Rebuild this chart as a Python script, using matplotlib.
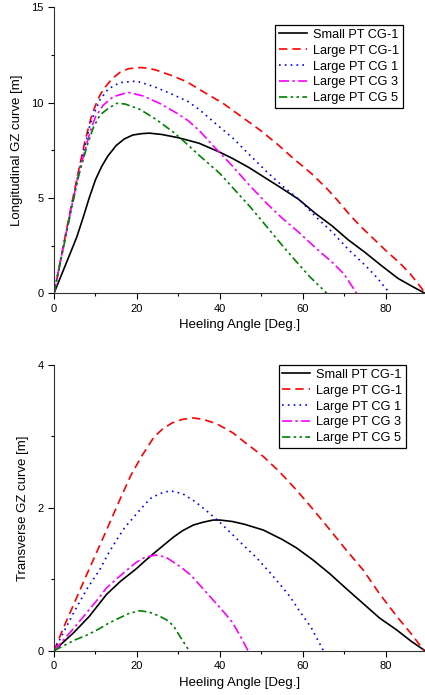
import matplotlib
matplotlib.use('Agg')
import matplotlib.pyplot as plt
from matplotlib.ticker import MultipleLocator

plt.rcParams['font.family'] = ['Liberation Sans', 'DejaVu Sans']

# ---- Longitudinal GZ (top) ----
lon_small_x = [0, 2, 4, 5.5, 7, 8.5, 10, 11.5, 13, 15, 17, 19, 21, 23, 26, 30, 35, 40, 43, 47, 51, 55, 59,
               63, 67, 71, 75, 79, 83, 86.5, 89.5]
lon_small_y = [0, 1.07, 2.14, 2.95, 3.95, 5.0, 5.95, 6.65, 7.2, 7.75, 8.1, 8.3, 8.37, 8.4, 8.33, 8.16, 7.87, 7.4,
               7.08, 6.6, 6.05, 5.5, 4.93, 4.2, 3.55, 2.8, 2.15, 1.45, 0.78, 0.35, 0]

lon_cgm1_x = [0, 2, 4, 6, 7.5, 9, 10, 11, 12, 14, 16, 18, 21, 23, 25, 28, 32, 35, 40.8, 45, 49.7, 54, 57.7,
              62, 65.8, 68.5, 71.4, 74, 77, 80, 83.5, 86, 88.7, 89.5]
lon_cgm1_y = [0, 2.2, 4.4, 6.5, 8.0, 9.25, 9.85, 10.35, 10.72, 11.25, 11.6, 11.78, 11.84, 11.8, 11.68, 11.45,
              11.1, 10.7, 9.96, 9.3, 8.56, 7.8, 7.08, 6.3, 5.5, 4.85, 4.1, 3.5, 2.88, 2.25, 1.57, 1.0, 0.26, 0]

lon_cg1_x = [0, 2, 4, 6, 8.7, 10, 11.1, 13.1, 15.9, 19.9, 24, 28, 32.4, 35.2, 39, 43.2, 47, 51.3, 55, 59.3,
             63, 67.4, 71, 75.4, 78, 81]
lon_cg1_y = [0, 2.2, 4.35, 6.4, 8.85, 9.6, 10.15, 10.72, 11.05, 11.13, 10.85, 10.49, 10.05, 9.61, 8.9, 8.13,
             7.3, 6.38, 5.65, 4.89, 4.05, 3.15, 2.3, 1.4, 0.8, 0]

lon_cg3_x = [0, 2, 4, 6, 8.7, 10, 11.9, 14.3, 17.9, 21.5, 25.6, 29.6, 32.4, 35.2, 39, 43.2, 47, 51.3, 55,
             59.3, 63, 67.4, 70, 73]
lon_cg3_y = [0, 2.15, 4.3, 6.3, 8.47, 9.25, 9.87, 10.31, 10.54, 10.35, 9.95, 9.45, 9.05, 8.5, 7.6, 6.64, 5.7,
             4.72, 3.95, 3.15, 2.4, 1.57, 1.0, 0]

lon_cg5_x = [0, 2, 4, 6, 8, 9.5, 11.1, 13.1, 15.1, 17.1, 20.7, 24.8, 28.8, 31.2, 35.2, 40, 43.5, 47.3, 51.3,
             55.3, 58.5, 61.7, 65.8]
lon_cg5_y = [0, 2.1, 4.2, 6.2, 7.75, 8.7, 9.35, 9.7, 9.96, 9.93, 9.65, 9.1, 8.45, 8.0, 7.2, 6.29, 5.45, 4.54,
             3.5, 2.45, 1.65, 0.87, 0]

# ---- Transverse GZ (bottom) ----
tr_small_x = [0, 4.7, 8.5, 12.7, 16, 19.9, 22, 24, 26.5, 28.8, 31, 33.6, 36, 38.4, 40, 43, 46, 50.5, 55, 58.5,
              62.5, 66.5, 70.5, 74.6, 78.5, 82.7, 86, 89.5]
tr_small_y = [0, 0.25, 0.48, 0.79, 0.97, 1.15, 1.26, 1.36, 1.48, 1.59, 1.68, 1.76, 1.8, 1.83, 1.83, 1.81, 1.77,
              1.69, 1.56, 1.44, 1.27, 1.08, 0.87, 0.66, 0.46, 0.29, 0.14, 0]

tr_cgm1_x = [0, 2.5, 5, 8, 12, 16, 18.5, 21.1, 24.1, 26.1, 28.5, 31, 33.6, 36, 39.2, 43.2, 46, 50.5, 54.5,
             58.5, 62.5, 66.6, 70.5, 74.6, 78.5, 82.7, 86, 89.3]
tr_cgm1_y = [0, 0.35, 0.68, 1.08, 1.6, 2.13, 2.45, 2.72, 2.99, 3.1, 3.19, 3.24, 3.26, 3.24, 3.18, 3.05, 2.92,
             2.72, 2.5, 2.25, 1.98, 1.69, 1.41, 1.13, 0.8, 0.48, 0.25, 0]

tr_cg1_x = [0, 2.5, 5, 8, 11, 13, 15.1, 17, 20.7, 23.2, 25.5, 28, 31, 34, 37, 40, 43, 46, 48.9, 52, 54.5,
            56.9, 59.3, 62, 65]
tr_cg1_y = [0, 0.28, 0.56, 0.87, 1.13, 1.35, 1.55, 1.72, 1.97, 2.13, 2.2, 2.24, 2.2, 2.09, 1.95, 1.8, 1.63,
            1.46, 1.3, 1.1, 0.93, 0.76, 0.55, 0.33, 0]

tr_cg3_x = [0, 5, 10, 12.7, 15, 17, 19.9, 22, 24.5, 27, 30.4, 33, 35, 37, 39, 41, 43, 45, 46.8]
tr_cg3_y = [0, 0.33, 0.68, 0.88, 1.0, 1.1, 1.24, 1.31, 1.34, 1.31, 1.18, 1.06, 0.93, 0.8, 0.67, 0.54, 0.4,
            0.2, 0]

tr_cg5_x = [0, 5, 8, 11, 13, 15.1, 18, 20.7, 23, 25.6, 27.2, 28.8, 30.4, 31.5, 32.6]
tr_cg5_y = [0, 0.15, 0.22, 0.31, 0.38, 0.44, 0.52, 0.56, 0.54, 0.48, 0.43, 0.35, 0.2, 0.1, 0]

labels = ['Small PT CG-1', 'Large PT CG-1', 'Large PT CG 1', 'Large PT CG 3', 'Large PT CG 5']
colors = ['black', '#ff0000', '#0000ff', '#ff00ff', '#008000']
styles = ['-', (0, (5, 3)), (0, (1, 2.5)), (0, (6, 2, 1.5, 2)), (0, (5, 2, 1.5, 2, 1.5, 2))]

fig = plt.figure(figsize=(4.25, 6.95), dpi=100)
ax1 = fig.add_axes([0.127, 0.578, 0.873, 0.4115])
ax2 = fig.add_axes([0.127, 0.0637, 0.873, 0.411])

top = [(lon_small_x, lon_small_y), (lon_cgm1_x, lon_cgm1_y), (lon_cg1_x, lon_cg1_y),
       (lon_cg3_x, lon_cg3_y), (lon_cg5_x, lon_cg5_y)]
bot = [(tr_small_x, tr_small_y), (tr_cgm1_x, tr_cgm1_y), (tr_cg1_x, tr_cg1_y),
       (tr_cg3_x, tr_cg3_y), (tr_cg5_x, tr_cg5_y)]

for ax, series, ylab, ymax, ymaj, ymin, anchor in [
        (ax1, top, 'Longitudinal GZ curve [m]', 15, 5, 2.5, (0.94, 0.938)),
        (ax2, bot, 'Transverse GZ curve [m]', 4, 2, 1, (0.949, 1.0))]:
    for (x, y), lab, c, ls in zip(series, labels, colors, styles):
        ax.plot(x, y, color=c, linestyle=ls, linewidth=1.2, label=lab)
    ax.set_xlim(0, 89.5)
    ax.set_ylim(0, ymax)
    ax.xaxis.set_major_locator(MultipleLocator(20))
    ax.xaxis.set_minor_locator(MultipleLocator(10))
    ax.yaxis.set_major_locator(MultipleLocator(ymaj))
    ax.yaxis.set_minor_locator(MultipleLocator(ymin))
    ax.spines['top'].set_visible(False)
    ax.spines['right'].set_visible(False)
    for s in ('left', 'bottom'):
        ax.spines[s].set_color('#333333')
    ax.tick_params(which='major', direction='out', length=4, width=0.8, labelsize=8)
    ax.tick_params(which='minor', direction='out', length=2.5, width=0.8)
    ax.set_xlabel('Heeling Angle [Deg.]', fontsize=9.5, labelpad=4)
    ax.set_ylabel(ylab, fontsize=9.5, labelpad=6)
    leg = ax.legend(loc='upper right', bbox_to_anchor=anchor, fontsize=9.2,
                    frameon=True, fancybox=False, borderaxespad=0,
                    handlelength=2.2, handletextpad=0.45, labelspacing=0.3,
                    borderpad=0.3)
    leg.get_frame().set_edgecolor('black')
    leg.get_frame().set_linewidth(0.9)
    leg.get_frame().set_alpha(1)

fig.savefig('out.png', dpi=100)
